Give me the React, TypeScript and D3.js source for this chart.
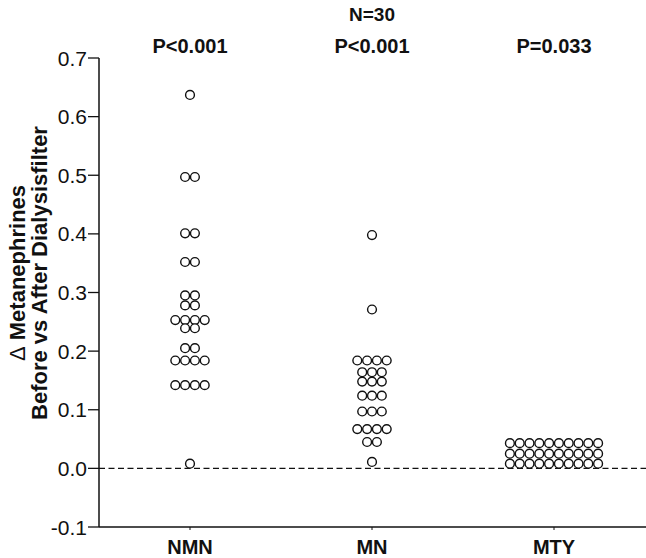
import React from "react";
import * as d3 from "d3";

const categories = ["NMN", "MN", "MTY"];
const pLabels = ["P<0.001", "P<0.001", "P=0.033"];
const nLabel = "N=30";
const yTicks = [-0.1, 0.0, 0.1, 0.2, 0.3, 0.4, 0.5, 0.6, 0.7];

const nmnValues = [
  0.637,
  0.497, 0.497,
  0.401, 0.401,
  0.352, 0.352,
  0.295, 0.295,
  0.278, 0.278,
  0.253, 0.253, 0.253, 0.253,
  0.239, 0.239,
  0.205, 0.205,
  0.184, 0.184, 0.184, 0.184,
  0.142, 0.142, 0.142, 0.142,
  0.008,
];
const mnValues = [
  0.398,
  0.271,
  0.184, 0.184, 0.184, 0.184,
  0.164, 0.164, 0.164,
  0.148, 0.148, 0.148,
  0.124, 0.124, 0.124,
  0.097, 0.097, 0.097,
  0.067, 0.067, 0.067, 0.067,
  0.045, 0.045,
  0.011,
];
const mtyValues = [
  0.043, 0.043, 0.043, 0.043, 0.043, 0.043, 0.043, 0.043, 0.043, 0.043,
  0.025, 0.025, 0.025, 0.025, 0.025, 0.025, 0.025, 0.025, 0.025, 0.025,
  0.008, 0.008, 0.008, 0.008, 0.008, 0.008, 0.008, 0.008, 0.008, 0.008,
];
const seriesValues = [nmnValues, mnValues, mtyValues];

const W = 646;
const H = 558;
const left = 99;
const right = 645;
const top = 58;
const bottom = 527;
const FONT = "'Liberation Sans', Arial, sans-serif";
const R = 4.4;
const D = 9.8;

export default function App() {
  const x = d3.scalePoint<string>().domain(categories).range([left, right]).padding(0.5);
  const y = d3.scaleLinear().domain([-0.1, 0.7]).range([bottom, top]);

  const points: { cx: number; cy: number; key: string }[] = [];
  categories.forEach((cat, ci) => {
    const groups = d3.group(seriesValues[ci], (v) => v);
    groups.forEach((vals, v) => {
      const n = vals.length;
      vals.forEach((_, i) => {
        points.push({
          cx: (x(cat) as number) + (i - (n - 1) / 2) * D,
          cy: y(v),
          key: `${cat}-${v}-${i}`,
        });
      });
    });
  });

  const fmt = (t: number) => d3.format(".1f")(t).replace("\u2212", "-");

  return (
    <svg
      width={W}
      height={H}
      style={{ position: "absolute", left: 0, top: 0, background: "#fff" }}
      fontFamily={FONT}
    >
      <rect width={W} height={H} fill="#fff" />
      {/* zero dashed line */}
      <line x1={left} x2={W} y1={y(0)} y2={y(0)} stroke="#111" strokeWidth={1.2} strokeDasharray="6,3.5" />
      {/* y axis */}
      <line x1={left} x2={left} y1={top} y2={bottom} stroke="#111" strokeWidth={1.5} />
      {yTicks.map((t) => (
        <g key={t}>
          <line x1={left - 11} x2={left} y1={y(t)} y2={y(t)} stroke="#111" strokeWidth={1.3} />
          <text x={left - 12} y={y(t)} dy="0.36em" textAnchor="end" fontSize={21} fill="#111">
            {fmt(t)}
          </text>
        </g>
      ))}
      {/* x axis */}
      <line x1={left} x2={W} y1={bottom} y2={bottom} stroke="#111" strokeWidth={1.5} />
      {categories.map((c) => (
        <g key={c}>
          <line x1={x(c)} x2={x(c)} y1={bottom} y2={bottom + 3} stroke="#111" strokeWidth={1} />
          <text x={x(c)} y={bottom + 27} textAnchor="middle" fontSize={20} fontWeight="bold" fill="#111">
            {c}
          </text>
        </g>
      ))}
      {/* top labels */}
      <text x={x("MN")} y={21} textAnchor="middle" fontSize={19} fontWeight="bold" fill="#111">
        {nLabel}
      </text>
      {categories.map((c, i) => (
        <text key={c} x={x(c)} y={53} textAnchor="middle" fontSize={20} fontWeight="bold" fill="#111">
          {pLabels[i]}
        </text>
      ))}
      {/* y title */}
      <g transform="translate(0,273) rotate(-90)">
        <text x={0} y={25} textAnchor="middle" fontSize={22} fontWeight="bold" fill="#111">
          <tspan fontWeight="normal">Δ</tspan> Metanephrines
        </text>
        <text x={0} y={47} textAnchor="middle" fontSize={22} fontWeight="bold" fill="#111">
          Before vs After Dialysisfilter
        </text>
      </g>
      {/* points */}
      {points.map((p) => (
        <circle key={p.key} cx={p.cx} cy={p.cy} r={R} fill="#fff" stroke="#111" strokeWidth={1.4} />
      ))}
    </svg>
  );
}
